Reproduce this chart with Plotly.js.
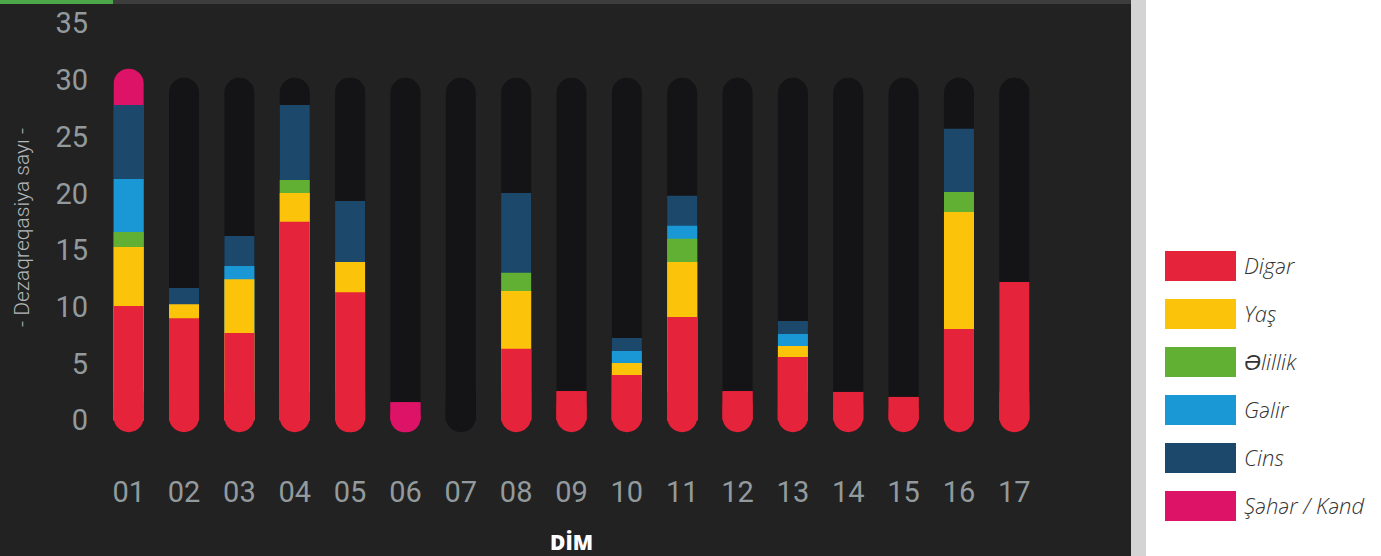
<!DOCTYPE html>
<html><head><meta charset="utf-8">
<script src="https://cdn.plot.ly/plotly-3.0.1.min.js"></script>
<style>html,body{margin:0;padding:0;background:#fff;overflow:hidden}#chart{width:1381px;height:556px}</style>
</head><body><div id="chart"></div>
<script>
// ---- data ----
const categories = ['01','02','03','04','05','06','07','08','09','10','11','12','13','14','15','16','17'];
const seriesNames = ['Digər','Yaş','Əlillik','Gəlir','Cins','Şəhər / Kənd'];
const seriesColors = ['#e5243b','#fcc30b','#62b033','#1a97d5','#1c486b','#dd1367'];
const diger     = [10.08, 9.0, 7.7, 17.5, 11.3, 0, 0, 6.3, 2.58, 4.0, 9.1, 2.58, 5.58, 2.5, 2.06, 8.06, 12.2];
const yas       = [5.2, 1.24, 4.74, 2.54, 2.66, 0, 0, 5.1, 0, 1.05, 4.86, 0, 0.97, 0, 0, 10.3, 0];
const elillik   = [1.32, 0, 0, 1.14, 0, 0, 0, 1.6, 0, 0, 2.04, 0, 0, 0, 0, 1.77, 0];
const gelir     = [4.67, 0, 1.16, 0, 0, 0, 0, 0, 0, 1.06, 1.15, 0, 1.05, 0, 0, 0, 0];
const cins      = [6.53, 1.42, 2.65, 6.62, 5.37, 0, 0, 7.04, 0, 1.15, 2.65, 0, 1.16, 0, 0, 5.57, 0];
const seherKend = [3.2, 0, 0, 0, 0, 1.59, 0, 0, 0, 0, 0, 0, 0, 0, 0, 0, 0];
const yTickVals = [0, 5, 10, 15, 20, 25, 30, 35];
const trackMax = 30.2;          // height of the dark background track
const capTop = 2.55, capBottom = -1.05; // rounded foot of every column
const trackColor = '#141416';

// ---- build traces ----
const series = [diger, yas, elillik, gelir, cins, seherKend];
const W = 0.542;
const traces = [];
// background track (rounded top)
traces.push({type:'bar', x:categories, y:categories.map(()=>trackMax), width:W,
  marker:{color:trackColor, cornerradius:15}, hoverinfo:'skip', showlegend:false});
// cumulative tops for each series
const cumTops = [];
const run = categories.map(()=>0);
series.forEach(vals => { vals.forEach((v,i)=>{run[i]+=v;}); cumTops.push(run.slice()); });
// draw from the topmost series down, each bar from 0 to its cumulative top
for (let si = series.length-1; si >= 0; si--) {
  const vals = series[si];
  traces.push({type:'bar', name:seriesNames[si], x:categories,
    y:cumTops[si].map((t,i)=> vals[i]>0 ? t : 0), width:W,
    customdata:vals, hovertemplate:'%{x}: %{customdata}<extra>'+seriesNames[si]+'</extra>',
    marker:{color:seriesColors[si], cornerradius: si === series.length-1 ? 15 : 0},
    showlegend:false});
}
// rounded feet
const total = run;
const capColors = categories.map((c,i)=>{
  for (let s=0;s<series.length;s++) if (series[s][i]>0) return seriesColors[s];
  return trackColor;
});
const capTops = total.map(t => t>0 ? Math.min(t, capTop) : capTop);
traces.push({type:'bar', x:categories, y:capTops.map(t=>capBottom-t), base:capTops, width:W,
  marker:{color:capColors, cornerradius:15}, hoverinfo:'skip', showlegend:false});
traces.push({type:'bar', x:categories, y:capTops, width:W,
  marker:{color:capColors, cornerradius:0}, hoverinfo:'skip', showlegend:false});

// ---- layout helpers ----
const L=101, R=339, T=12, B=113, FW=1381, FH=556;
const PW=FW-L-R, PH=FH-T-B;
const px = v => (v-L)/PW;
const py = v => (FH-B-v)/PH;

const shapes = [
  {type:'rect', xref:'paper', yref:'paper', x0:px(0), x1:px(1131), y0:py(FH), y1:py(0), fillcolor:'#222222', line:{width:0}, layer:'below'},
  {type:'rect', xref:'paper', yref:'paper', x0:px(0), x1:px(1131), y0:py(4), y1:py(0), fillcolor:'#3d3d3d', line:{width:0}, layer:'below'},
  {type:'rect', xref:'paper', yref:'paper', x0:px(0), x1:px(113), y0:py(4), y1:py(0), fillcolor:'#4ca64a', line:{width:0}, layer:'below'},
  {type:'rect', xref:'paper', yref:'paper', x0:px(1131), x1:px(1146), y0:py(FH), y1:py(0), fillcolor:'#d4d4d4', line:{width:0}, layer:'below'}
];
const annotations = [];
seriesNames.forEach((n,i)=>{
  const cy = 266 + 48*i;
  shapes.push({type:'rect', xref:'paper', yref:'paper', x0:px(1165), x1:px(1236), y0:py(cy+15), y1:py(cy-15),
    fillcolor:seriesColors[i], line:{width:0}});
  annotations.push({xref:'paper', yref:'paper', x:px(1242), y:py(cy-1), xanchor:'left', yanchor:'middle',
    text:n, showarrow:false, font:{family:'"Open Sans", sans-serif', size:22, color:'#333333', style:'italic', weight:300}});
});

const tickFont = {family:'Roboto, sans-serif', size:29, color:'#939a9d', weight:400};
const layout = {
  width:FW, height:FH, margin:{l:L, r:R, t:T, b:B, pad:0},
  paper_bgcolor:'#ffffff', plot_bgcolor:'rgba(0,0,0,0)',
  barmode:'overlay', showlegend:false,
  xaxis:{type:'category', range:[-0.5, 16.5], showgrid:false, zeroline:false, showline:false,
    tickfont:tickFont, ticklabelstandoff:29, fixedrange:true,
    title:{text:'DİM', font:{family:'"Open Sans", sans-serif', size:21, color:'#ffffff', weight:800}, standoff:32}},
  yaxis:{range:[-2, 36], tickvals:yTickVals, showgrid:false, zeroline:false, showline:false,
    tickfont:tickFont, ticklabelstandoff:12, fixedrange:true,
    title:{text:'- Dezaqreqasiya sayı -', font:{family:'Roboto, sans-serif', size:21, color:'#b4b8ba', weight:300}, standoff:20}},
  shapes:shapes, annotations:annotations
};
Plotly.newPlot('chart', traces, layout, {staticPlot:true, displayModeBar:false});
</script></body></html>
